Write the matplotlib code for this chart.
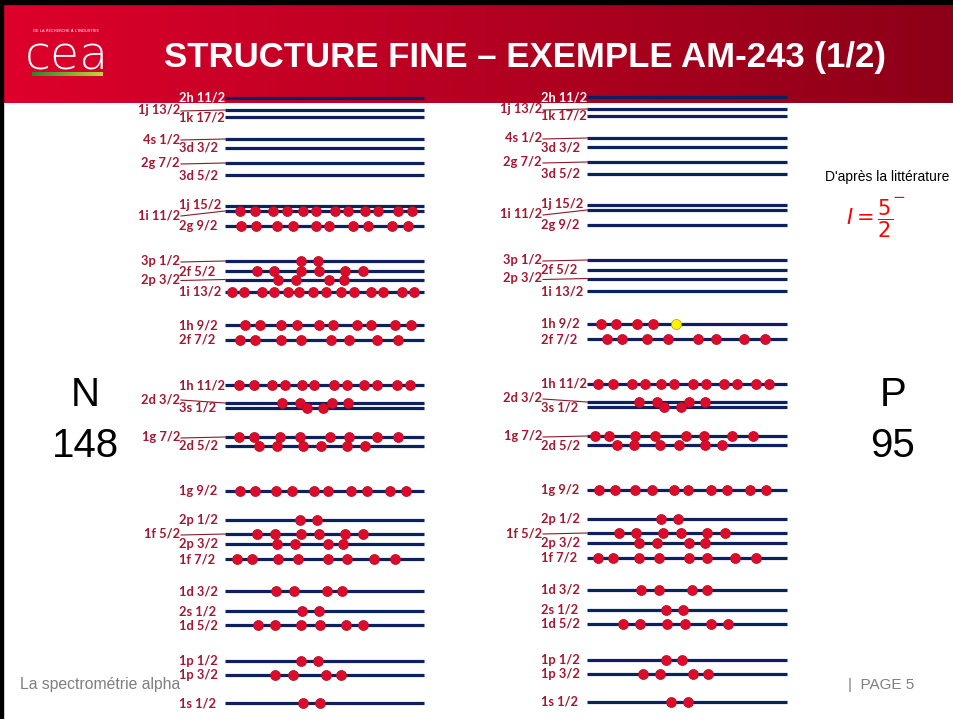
import numpy as np
import matplotlib.pyplot as plt
from matplotlib.patches import Rectangle

# level labels, vertical position (pixel rows of the slide), and whether the
# label is pushed to the left with a small connector line
level_labels = ["2h 11/2", "1j 13/2", "1k 17/2", "4s 1/2", "3d 3/2", "2g 7/2",
                "3d 5/2", "1j 15/2", "1i 11/2", "2g 9/2", "3p 1/2", "2f 5/2",
                "2p 3/2", "1i 13/2", "1h 9/2", "2f 7/2", "1h 11/2", "2d 3/2",
                "3s 1/2", "1g 7/2", "2d 5/2", "1g 9/2", "2p 1/2", "1f 5/2",
                "2p 3/2", "1f 7/2", "1d 3/2", "2s 1/2", "1d 5/2", "1p 1/2",
                "1p 3/2", "1s 1/2"]
level_y = [98, 110, 117, 139, 148, 163, 175, 206, 211, 226, 261, 271, 279.5,
           292, 325, 340, 385, 403, 408, 437, 446, 491, 520, 534, 544, 559,
           591, 611, 625, 661, 675, 703]
level_shifted = [0, 1, 0, 1, 0, 1, 0, 0, 1, 0, 1, 0, 1, 0, 0, 0, 0, 1, 0, 1,
                 0, 0, 0, 1, 0, 0, 0, 0, 0, 0, 0, 0]
label_dy = {"1i 11/2": 4, "2d 3/2": -4, "1j 15/2": -1}

# nucleon positions along each level (N = 148, left diagram)
neutrons = {
    "1i 11/2": [240, 255, 273, 287, 303, 316, 335, 348, 365, 378, 398, 412],
    "2g 9/2": [241, 256, 277, 293, 316, 329, 353, 368, 392, 408],
    "3p 1/2": [301, 318],
    "2f 5/2": [257, 274, 301, 319, 345, 363],
    "2p 3/2": [278, 296, 329, 344],
    "1i 13/2": [232, 244, 262, 274, 288, 299, 313, 326, 341, 354, 371, 383,
                402, 414],
    "1h 9/2": [245, 260, 281, 297, 319, 333, 357, 371, 395, 411],
    "2f 7/2": [240, 255, 281, 301, 331, 349, 377, 398],
    "1h 11/2": [239, 254, 272, 285, 302, 314, 334, 347, 364, 377, 397, 410],
    "2d 3/2": [282, 300, 332, 348],
    "3s 1/2": [307, 323],
    "1g 7/2": [239, 254, 280, 300, 330, 349, 377, 398],
    "2d 5/2": [259, 277, 303, 321, 347, 365],
    "1g 9/2": [240, 255, 276, 292, 314, 328, 351, 367, 390, 406],
    "2p 1/2": [300, 317],
    "1f 5/2": [257, 275, 301, 319, 345, 363],
    "2p 3/2#2": [277, 295, 328, 343],
    "1f 7/2": [237, 252, 278, 298, 328, 347, 374, 395],
    "1d 3/2": [276, 294, 327, 342],
    "2s 1/2": [302, 319],
    "1d 5/2": [258, 275, 301, 320, 346, 363],
    "1p 1/2": [301, 318],
    "1p 3/2": [275, 293, 326, 341],
    "1s 1/2": [303, 320],
}

# Z = 95, right diagram
protons = {
    "1h 9/2": [601, 616, 637, 653],
    "2f 7/2": [607, 622, 647, 668, 698, 716, 744, 765],
    "1h 11/2": [598, 613, 632, 645, 661, 674, 693, 706, 724, 737, 756, 769],
    "2d 3/2": [639, 657, 689, 705],
    "3s 1/2": [664, 681],
    "1g 7/2": [595, 609, 635, 655, 686, 704, 732, 753],
    "2d 5/2": [617, 634, 660, 679, 705, 722],
    "1g 9/2": [599, 615, 635, 652, 674, 688, 711, 727, 750, 766],
    "2p 1/2": [661, 678],
    "1f 5/2": [619, 636, 663, 681, 707, 725],
    "2p 3/2#2": [639, 657, 689, 705],
    "1f 7/2": [598, 613, 639, 659, 689, 707, 735, 756],
    "1d 3/2": [641, 659, 692, 707],
    "2s 1/2": [666, 683],
    "1d 5/2": [623, 640, 667, 685, 711, 728],
    "1p 1/2": [666, 682],
    "1p 3/2": [643, 660, 693, 708],
    "1s 1/2": [671, 688],
}
unpaired_proton = ("1h 9/2", 676)

NAVY = "#0B2160"
LABEL_RED = "#A31830"
DOT_RED = "#DE0A2C"

fig = plt.figure(figsize=(9.54, 7.19), dpi=100)
ax = fig.add_axes([0, 0, 1, 1])

# header band with gradient
grad = np.linspace(0, 1, 256)
c0 = np.array([0.87, 0.0, 0.17])
c1 = np.array([0.55, 0.0, 0.09])
img = (c0[None, :] * (1 - grad[:, None]) + c1[None, :] * grad[:, None])[None, :, :]
ax.imshow(img, extent=(3, 954, 103, 4), aspect="auto", zorder=0)
ax.add_patch(Rectangle((0, 0), 954, 4, color="black", zorder=1))
ax.add_patch(Rectangle((0, 0), 3, 719, color="black", zorder=1))

# logo
ax.text(33, 31, "DE LA RECHERCHE À L'INDUSTRIE", color="white", fontsize=2.8,
        va="center", ha="left")
ax.text(67, 56, "cea", color="white", fontsize=34, fontweight="light",
        family="DejaVu Sans", va="center", ha="center")
bar = np.linspace(0, 1, 64)
g0 = np.array([0.2, 0.5, 0.2])
g1 = np.array([0.75, 0.85, 0.2])
ax.imshow((g0[None, :] * (1 - bar[:, None]) + g1[None, :] * bar[:, None])[None],
          extent=(32, 103, 76, 72), aspect="auto", zorder=2)

ax.text(525, 58, "STRUCTURE FINE – EXEMPLE AM-243 (1/2)", color="white",
        fontsize=25, fontweight="bold", family="Liberation Sans",
        ha="center", va="center")

# level diagrams
columns = [(225, 424, 179, 0, neutrons), (587, 787, 541, -1, protons)]
for x0, x1, xl, dy, dots in columns:
    seen = set()
    for lab, y, sh in zip(level_labels, level_y, level_shifted):
        y = y + dy
        ax.plot([x0, x1], [y, y], color=NAVY, lw=2.3, solid_capstyle="butt",
                zorder=3)
        ly = y + label_dy.get(lab, 0)
        col = "white" if y < 103 else LABEL_RED
        if sh:
            ax.text(xl + 1, ly, lab, color=col, fontsize=9.3, fontweight="bold",
                    family="Lato", ha="right", va="center", zorder=4)
            ax.plot([xl + 2, x0], [ly + 1, y], color="#8B1A25", lw=0.8,
                    zorder=2)
        else:
            ax.text(xl, ly, lab, color=col, fontsize=9.3, fontweight="bold",
                    family="Lato", ha="left", va="center", zorder=4)
        key = lab + "#2" if lab in seen else lab
        seen.add(lab)
        if key in dots:
            xs = dots[key]
            ax.plot(xs, [y] * len(xs), ls="", marker="o", ms=7.2,
                    mfc=DOT_RED, mec="#A8101F", mew=0.5, zorder=5)
        if x0 > 500 and lab == unpaired_proton[0]:
            ax.plot([unpaired_proton[1]], [y], ls="", marker="o", ms=7.2,
                    mfc="#FFF200", mec="#B09A00", mew=0.5, zorder=5)

# side annotations
ax.text(85, 395, "N", fontsize=29, ha="center", va="center",
        family="Liberation Sans")
ax.text(85, 446, "148", fontsize=29, ha="center", va="center",
        family="Liberation Sans")
ax.text(893, 395, "P", fontsize=29, ha="center", va="center",
        family="Liberation Sans")
ax.text(893, 446, "95", fontsize=29, ha="center", va="center",
        family="Liberation Sans")
ax.text(887, 177, "D'après la littérature", fontsize=10, ha="center",
        va="center", family="Liberation Sans")
ax.text(870, 219, r"$I = \dfrac{5}{2}$", fontsize=15, color="#FF0000",
        ha="center", va="center")
ax.text(899, 198, "−", fontsize=11, color="#FF0000", ha="center",
        va="center")

# footer
ax.text(20, 685, "La spectrométrie alpha", fontsize=11.3, color="#7F7F7F",
        ha="left", va="center", family="Liberation Sans")
ax.text(848, 685, "|  PAGE 5", fontsize=11, color="#7F7F7F",
        ha="left", va="center", family="Liberation Sans")

ax.set_xlim(0, 954)
ax.set_ylim(719, 0)
ax.axis("off")
fig.savefig("out.png", dpi=100, facecolor="white")
